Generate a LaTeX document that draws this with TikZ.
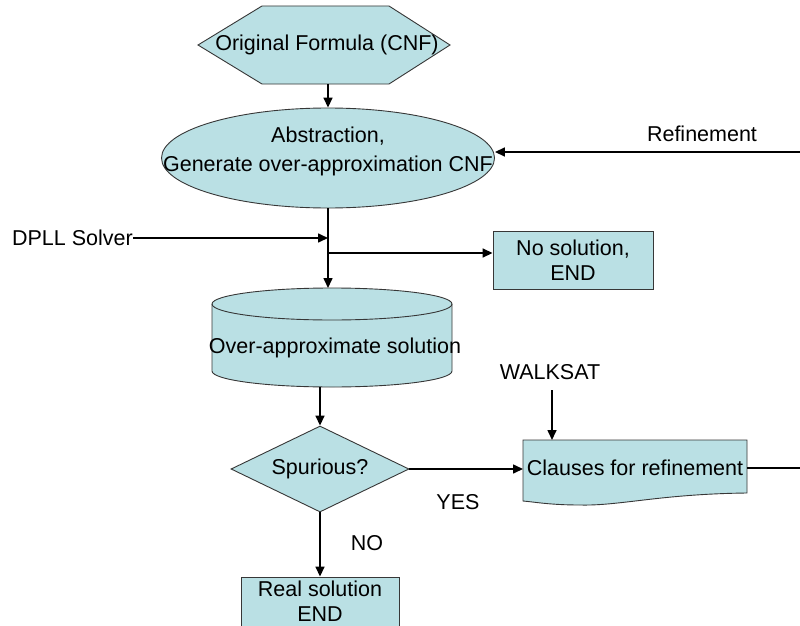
\documentclass[tikz,border=0pt]{standalone}
\usepackage{fontspec}
\setmainfont{Liberation Sans}
\usetikzlibrary{shapes.geometric,arrows.meta}
\definecolor{cfill}{RGB}{186,224,228}
\definecolor{cedge}{RGB}{55,55,55}
\begin{document}
\begin{tikzpicture}[x=1pt,y=-1pt,
  shp/.style={draw=cedge, line width=0.9pt, fill=cfill},
  conn/.style={line width=1.6pt, -{Triangle[length=10pt,width=9pt]}},
  plainline/.style={line width=1.6pt},
  txt/.style={font=\fontsize{21.5}{25}\selectfont, inner sep=0pt, align=center}]
\clip (0,0) rectangle (800,626);
\fill[white] (0,0) rectangle (800,626);

% hexagon: Original Formula
\path[shp] (198,45) -- (262,6) -- (389,6) -- (450,45) -- (389,84) -- (262,84) -- cycle;
\node[txt] (orig) at (327,45) {Original Formula (CNF)};
\coordinate (origS) at (328,84);

% ellipse: Abstraction
\node[shp, ellipse, minimum width=333pt, minimum height=100pt, inner sep=0pt] (abs) at (328,158) {};
\node[txt, font=\fontsize{21.5}{29}\selectfont] (abstxt) at (328,151) {Abstraction,\\Generate over-approximation CNF};

% cylinder: Over-approximate solution
\path[shp] (212,304) -- (212,371)
  arc[start angle=180, end angle=360, x radius=120pt, y radius=16pt]
  -- (452,304)
  arc[start angle=0, end angle=180, x radius=120pt, y radius=16pt] -- cycle;
\draw[draw=cedge, line width=0.9pt] (212,304)
  arc[start angle=180, end angle=360, x radius=120pt, y radius=16pt];
\node[txt] (over) at (335,348) {Over-approximate solution};
\coordinate (cylN) at (328,288);
\coordinate (cylS) at (320,387);

% No solution box
\node[shp, rectangle, minimum width=160pt, minimum height=58pt, txt] (nosol) at (573,260) {No solution,\\END};

% diamond: Spurious?
\node[shp, diamond, minimum width=178pt, minimum height=86pt, inner sep=0pt] (spur) at (320,469) {};
\node[txt] (spurtxt) at (320,469) {Spurious?};

% document shape: Clauses for refinement
\path[shp] (523,440) -- (747,440) -- (747,493)
  .. controls (660,494) and (620,506) .. (580,505)
  .. controls (550,505) and (535,502) .. (523,501) -- cycle;
\node[txt] (clauses) at (635,468) {Clauses for refinement};
\coordinate (clW) at (523,469);
\coordinate (clN) at (552,440);
\coordinate (clE) at (747,468);

% Real solution box
\node[shp, rectangle, minimum width=158pt, minimum height=70pt, inner sep=0pt] (real) at (320,612) {};
\node[txt] (realtxt) at (320,601.5) {Real solution\\END};

% labels
\node[txt, anchor=east] (dpll) at (133,238) {DPLL Solver};
\node[txt] (refl) at (702,134) {Refinement};
\node[txt] (walk) at (550,372) {WALKSAT};
\node[txt] (yes) at (458,502) {YES};
\node[txt] (no) at (367,543) {NO};

% connectors
\coordinate (refR) at (800,152);
\coordinate (dpllJ) at (328,238);
\coordinate (branch) at (328,253);
\coordinate (walkS) at (552,390);
\coordinate (clOut) at (800,468);

\draw[conn] (origS) -- (abs.north);
\draw[conn] (refR) -- (refR -| abs.east);
\draw[conn] (abs.south) -- (cylN);
\draw[conn] (dpll.east) -- (dpllJ);
\draw[conn] (branch) -- (branch -| nosol.west);
\draw[conn] (cylS) -- (spur.north);
\draw[conn] (spur.east) -- (clW);
\draw[conn] (spur.south) -- (real.north);
\draw[conn] (walkS) -- (clN);
\draw[plainline] (clE) -- (clOut);
\end{tikzpicture}
\end{document}
